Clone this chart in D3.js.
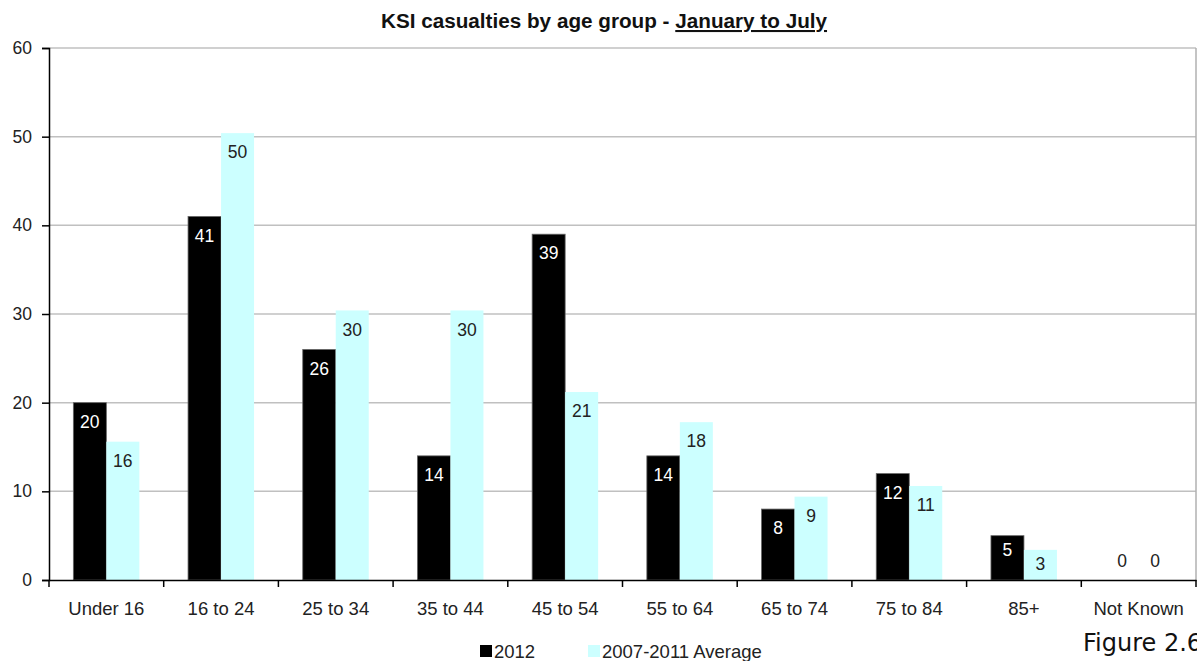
<!DOCTYPE html>
<html><head><meta charset="utf-8">
<script src="https://cdn.jsdelivr.net/npm/d3@7"></script>
<style>
html,body{margin:0;padding:0;background:#fff;}
svg{display:block;}
</style></head>
<body>
<svg id="chart" width="1197" height="661"></svg>
<script>
const categories = ["Under 16","16 to 24","25 to 34","35 to 44","45 to 54","55 to 64","65 to 74","75 to 84","85+","Not Known"];
const seriesNames = ["2012","2007-2011 Average"];
const values2012 = [20,41,26,14,39,14,8,12,5,0];
const valuesAvg = [15.6,50.4,30.4,30.4,21.2,17.8,9.4,10.6,3.4,0];
const yTicks = [0,10,20,30,40,50,60];
const colors = ["#000000","#CCFFFF"];
const labelColors = ["#ffffff","#222222"];

const svg = d3.select("#chart");
const m = {left:49, right:1196, top:48, bottom:580};
const font = "'Liberation Sans', Arial, sans-serif";

const x0 = d3.scaleBand().domain(categories).range([m.left, m.right]).padding(0);
const x1 = d3.scaleBand().domain(seriesNames).range([0, x0.bandwidth()]).paddingInner(0).paddingOuter(0.738);
const y = d3.scaleLinear().domain([0,60]).range([m.bottom, m.top]);

// gridlines
svg.append("g").selectAll("line").data(yTicks.filter(d=>d>0)).join("line")
  .attr("x1", m.left).attr("x2", m.right)
  .attr("y1", d=>y(d)).attr("y2", d=>y(d))
  .attr("stroke", "#c0c0c0").attr("stroke-width", 1.5);
// right border
svg.append("line").attr("x1", m.right).attr("x2", m.right).attr("y1", m.top).attr("y2", m.bottom)
  .attr("stroke", "#b0b0b0").attr("stroke-width", 1.5);

// bars
const data = categories.map((c,i)=>({cat:c, vals:[values2012[i], valuesAvg[i]]}));
const groups = svg.append("g").selectAll("g").data(data).join("g")
  .attr("transform", d=>`translate(${x0(d.cat)},0)`);
groups.selectAll("rect").data(d=>d.vals.map((v,j)=>({v, s:seriesNames[j], j}))).join("rect")
  .attr("x", d=>x1(d.s)).attr("width", x1.bandwidth())
  .attr("y", d=>y(d.v)).attr("height", d=>y(0)-y(d.v))
  .attr("fill", d=>colors[d.j])
  .attr("stroke", d=>d.j===0 && d.v>0 ? "#666" : "none").attr("stroke-width", 0.8);
groups.selectAll("text").data(d=>d.vals.map((v,j)=>({v, s:seriesNames[j], j}))).join("text")
  .attr("x", d=>x1(d.s)+x1.bandwidth()/2)
  .attr("y", d=>{const h=y(0)-y(d.v); if(d.v===0) return y(0)-19; return y(d.v)+(h<50?14:19);})
  .attr("dy", "0.35em")
  .attr("text-anchor", "middle")
  .attr("font-family", font).attr("font-size", 17.5)
  .attr("fill", d=> d.v===0 ? "#222" : labelColors[d.j])
  .text(d=>Math.round(d.v));

// y axis
const yAxis = svg.append("g").attr("transform", `translate(${m.left},0)`)
  .call(d3.axisLeft(y).tickValues(yTicks).tickSize(7).tickPadding(10));
yAxis.select(".domain").attr("stroke", "#000").attr("stroke-width", 1.5);
yAxis.selectAll(".tick line").attr("stroke", "#000").attr("stroke-width", 1.5);
yAxis.selectAll("text").attr("font-family", font).attr("font-size", 17.5).attr("fill", "#222");

// x axis
const xAxis = svg.append("g").attr("transform", `translate(0,${m.bottom})`)
  .call(d3.axisBottom(x0).tickSize(0).tickPadding(22));
xAxis.select(".domain").attr("stroke", "#000").attr("stroke-width", 1.5);
xAxis.selectAll("text").attr("font-family", font).attr("font-size", 18.5).attr("fill", "#222");
// tick marks at category boundaries
const bounds = categories.map(c=>x0(c)).concat([m.right]);
svg.append("g").selectAll("line").data(bounds).join("line")
  .attr("x1", d=>d).attr("x2", d=>d).attr("y1", m.bottom).attr("y2", m.bottom+7)
  .attr("stroke", "#000").attr("stroke-width", 1.5);

// title
const title = svg.append("text").attr("x", 604).attr("y", 28).attr("text-anchor", "middle")
  .attr("font-family", font).attr("font-size", 20.7).attr("font-weight", "bold").attr("fill", "#111");
title.append("tspan").text("KSI casualties by age group - ");
title.append("tspan").attr("text-decoration", "underline").text("January to July");

// legend
const legend = svg.append("g");
const legX = [480, 588];
seriesNames.forEach((s,i)=>{
  legend.append("rect").attr("x", legX[i]).attr("y", 645).attr("width", 12).attr("height", 12).attr("fill", colors[i]);
  legend.append("text").attr("x", legX[i]+14).attr("y", 658).attr("font-family", font).attr("font-size", 18.5).attr("fill", "#222").text(s);
});

// figure label
svg.append("text").attr("x", 1083).attr("y", 651).attr("font-family", "'DejaVu Sans', sans-serif")
  .attr("font-size", 24).attr("fill", "#111").text("Figure 2.6");
</script>
</body></html>
